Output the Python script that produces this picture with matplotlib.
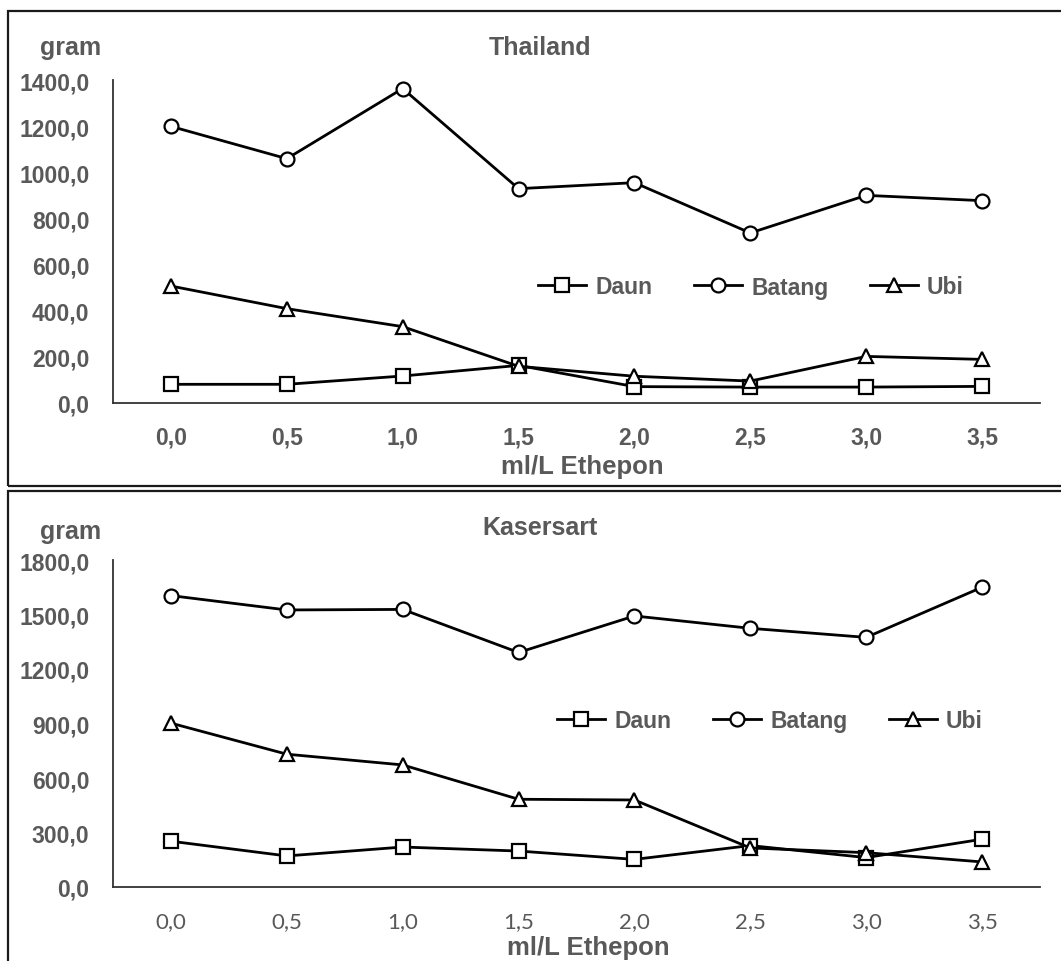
import matplotlib.pyplot as plt
from matplotlib.patches import Rectangle

plt.rcParams['font.family'] = ['Liberation Sans', 'DejaVu Sans']

W, H = 1061, 962
GREY = '#595959'

doses = ['0,0', '0,5', '1,0', '1,5', '2,0', '2,5', '3,0', '3,5']
series_names = ['Daun', 'Batang', 'Ubi']

# Thailand
thai_daun = [81, 81, 117, 163, 71, 69, 69, 72]
thai_batang = [1199, 1059, 1363, 929, 955, 737, 900, 877]
thai_ubi = [507, 409, 331, 159, 116, 95, 202, 189]
thai_yticks = [0, 200, 400, 600, 800, 1000, 1200, 1400]

# Kasersart
kas_daun = [252, 171, 220, 198, 152, 228, 162, 263]
kas_batang = [1604, 1525, 1528, 1291, 1492, 1424, 1374, 1650]
kas_ubi = [902, 731, 672, 483, 479, 215, 189, 138]
kas_yticks = [0, 300, 600, 900, 1200, 1500, 1800]


def fx(px):
    return px / W


def fy(py):
    return 1 - py / H


fig = plt.figure(figsize=(W / 100, H / 100), dpi=100)

# panel borders
fig.patches.append(Rectangle((fx(8), fy(487)), 1.1, (487 - 12) / H, transform=fig.transFigure,
                             fill=False, edgecolor='#1a1a1a', linewidth=1.6))
fig.patches.append(Rectangle((fx(8), -0.1), 1.1, fy(492) + 0.1, transform=fig.transFigure,
                             fill=False, edgecolor='#1a1a1a', linewidth=1.6))

markers = ['s', 'o', '^']


def draw_panel(ax, data, yticks, bold_x, title, title_y, gram_y, xlabel_pos, leg_pos, xpad):
    x = range(len(doses))
    for vals, m, name in zip(data, markers, series_names):
        ax.plot(x, vals, color='black', linewidth=2.0, marker=m, markersize=10,
                markerfacecolor='white', markeredgecolor='black', markeredgewidth=1.6,
                label=name)
    ax.set_xlim(-0.5, len(doses) - 0.5)
    ax.set_ylim(yticks[0], yticks[-1])
    ax.set_yticks(yticks)
    ax.set_yticklabels([f'{v},0' for v in yticks], fontsize=16.5, fontweight='bold', color=GREY)
    ax.set_xticks(list(x))
    if bold_x:
        ax.set_xticklabels(doses, fontsize=16.5, fontweight='bold', color=GREY)
    else:
        ax.set_xticklabels(doses, fontsize=16, color=GREY, family=['Lato', 'DejaVu Sans'])
    ax.tick_params(axis='y', length=0, pad=17)
    ax.tick_params(axis='x', length=0, pad=xpad)
    for s in ['top', 'right']:
        ax.spines[s].set_visible(False)
    for s in ['left', 'bottom']:
        ax.spines[s].set_color('#333333')
        ax.spines[s].set_linewidth(1.3)

    fig.text(fx(540), fy(title_y), title, ha='center', va='center', fontsize=18,
             fontweight='bold', color=GREY)
    fig.text(fx(71), fy(gram_y), 'gram', ha='center', va='center', fontsize=18,
             fontweight='bold', color=GREY)
    fig.text(fx(xlabel_pos[0]), fy(xlabel_pos[1]), 'ml/L Ethepon', ha='center', va='center',
             fontsize=18.5, fontweight='bold', color=GREY)
    leg = ax.legend(loc='center', bbox_to_anchor=(fx(leg_pos[0]), fy(leg_pos[1])),
                    bbox_transform=fig.transFigure, ncol=3, frameon=False,
                    handlelength=2.1, handletextpad=0.4, columnspacing=1.8,
                    prop={'size': 16.5, 'weight': 'bold'})
    for t in leg.get_texts():
        t.set_color(GREY)


ax1 = fig.add_axes([fx(113), fy(404), (1040 - 113) / W, (404 - 81) / H])
draw_panel(ax1, [thai_daun, thai_batang, thai_ubi], thai_yticks, True, 'Thailand',
           48, 48, (582, 467), (751, 288), 16)

ax2 = fig.add_axes([fx(113), fy(888), (1040 - 113) / W, (888 - 561) / H])
draw_panel(ax2, [kas_daun, kas_batang, kas_ubi], kas_yticks, False, 'Kasersart',
           528, 532, (588, 948), (770, 722), 17)

fig.savefig('out.png', dpi=100)
